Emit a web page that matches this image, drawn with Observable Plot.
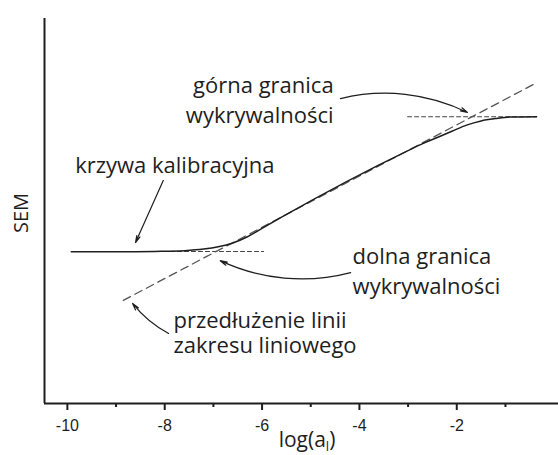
<!DOCTYPE html>
<html>
<head>
<meta charset="utf-8">
<script src="https://cdn.jsdelivr.net/npm/d3@7"></script>
<script src="https://cdn.jsdelivr.net/npm/@observablehq/plot@0.6"></script>
<style>
  html, body { margin: 0; padding: 0; background: #fff; }
</style>
</head>
<body>
<div id="chart"></div>
<script>
// --- data ---
const curveX = [-9.92, -9.0, -8.2, -7.6, -7.2, -6.9, -6.6, -6.3, -6.0, -5.6, -3.0, -2.7, -2.4, -2.1, -1.8, -1.5, -1.2, -0.9, -0.36];
const curveY = [3.94, 3.94, 3.95, 3.97, 4.01, 4.07, 4.17, 4.33, 4.55, 4.84, 6.57, 6.75, 6.91, 7.07, 7.23, 7.34, 7.40, 7.44, 7.45];

const tangentX = [-8.85, -0.42];
const tangentY = [2.68, 8.29];

const lowerLimitX = [-8.6, -5.97];
const lowerLimitY = [3.95, 3.95];
const upperLimitX = [-3.01, -0.36];
const upperLimitY = [7.45, 7.45];

const majorTicks = [-10, -8, -6, -4, -2];
const minorTicks = [-9, -7, -5, -3, -1];

const labelText = ["górna granica", "wykrywalności", "krzywa kalibracyjna", "dolna granica", "wykrywalności", "przedłużenie linii", "zakresu liniowego"];
const labelX = [-4.53, -4.53, -9.84, -4.14, -4.14, -7.82, -7.82];
const labelY = [8.25, 7.47, 6.17, 3.81, 3.03, 2.15, 1.50];
const labelAnchor = ["end", "end", "start", "start", "start", "start", "start"];

const arrowX1 = [-4.39, -8.03, -4.18, -7.92];
const arrowY1 = [7.92, 5.79, 3.40, 1.82];
const arrowX2 = [-1.78, -8.60, -6.86, -8.66];
const arrowY2 = [7.56, 4.18, 3.71, 2.60];
const arrowBend = [20, 0, 20, 12];

const xDomain = [-10.47, 0.09];
const yDomain = [0, 10];

// --- tables ---
const curve = curveX.map((x, i) => ({x, y: curveY[i]}));
const tangent = tangentX.map((x, i) => ({x, y: tangentY[i]}));
const lower = lowerLimitX.map((x, i) => ({x, y: lowerLimitY[i]}));
const upper = upperLimitX.map((x, i) => ({x, y: upperLimitY[i]}));
const labels = labelText.map((t, i) => ({t, x: labelX[i], y: labelY[i], a: labelAnchor[i]}));
const arrows = arrowX1.map((x1, i) => ({x1, y1: arrowY1[i], x2: arrowX2[i], y2: arrowY2[i], b: arrowBend[i]}));

const annoFont = "Open Sans, Noto Sans, sans-serif";
const ink = "#1e1e1e";
const annoSize = 22;

const marks = [
  Plot.line(lower, {x: "x", y: "y", stroke: "#444", strokeWidth: 1.1, strokeDasharray: "4,3"}),
  Plot.line(upper, {x: "x", y: "y", stroke: "#444", strokeWidth: 1.1, strokeDasharray: "4,3"}),
  Plot.line(tangent, {x: "x", y: "y", stroke: "#555", strokeWidth: 1.3, strokeDasharray: "8,5"}),
  Plot.line(curve, {x: "x", y: "y", stroke: ink, strokeWidth: 1.5, curve: "monotone-x"}),
  Plot.ruleY([yDomain[0]], {stroke: ink, strokeWidth: 2}),
  Plot.ruleX([xDomain[0]], {stroke: ink, strokeWidth: 2}),
  Plot.axisX({ticks: majorTicks, tickSize: 7, tickPadding: 9, fontSize: 16, tickFormat: d => String(d), label: null, strokeWidth: 2, stroke: ink, fill: ink}),
  Plot.axisX({ticks: minorTicks, tickSize: 4, tickFormat: () => "", label: null, strokeWidth: 2, stroke: ink}),
  ...arrows.map(a => Plot.arrow([a], {x1: "x1", y1: "y1", x2: "x2", y2: "y2", bend: a.b, stroke: ink, strokeWidth: 1.2, headLength: 9, headAngle: 28})),
  Plot.text(labels.filter(d => d.a === "end"), {x: "x", y: "y", text: "t", textAnchor: "end", lineAnchor: "middle", fontSize: annoSize, fontFamily: annoFont, fill: ink}),
  Plot.text(labels.filter(d => d.a === "start"), {x: "x", y: "y", text: "t", textAnchor: "start", lineAnchor: "middle", fontSize: annoSize, fontFamily: annoFont, fill: ink})
];

const chart = Plot.plot({
  width: 558,
  height: 455,
  marginLeft: 44,
  marginRight: 0,
  marginTop: 18,
  marginBottom: 52,
  x: {domain: xDomain},
  y: {domain: yDomain, axis: null},
  style: {fontFamily: "Liberation Sans, Arial, sans-serif", fontSize: "16px", color: ink, background: "#fff"},
  marks
});

document.getElementById("chart").appendChild(chart);

const svg = d3.select(chart);

// y-axis title
svg.append("text")
  .attr("transform", "translate(28,213) rotate(-90)")
  .attr("text-anchor", "middle")
  .attr("font-family", annoFont)
  .attr("font-size", 20)
  .attr("fill", ink)
  .text("SEM");

// x-axis title with subscript
const t = svg.append("text")
  .attr("x", 307).attr("y", 447)
  .attr("text-anchor", "middle")
  .attr("font-family", annoFont)
  .attr("font-size", 21)
  .attr("fill", ink);
t.append("tspan").text("log(a");
t.append("tspan").attr("font-size", 13).attr("dy", 4).text("l");
t.append("tspan").attr("dy", -4).text(")");
</script>
</body>
</html>
